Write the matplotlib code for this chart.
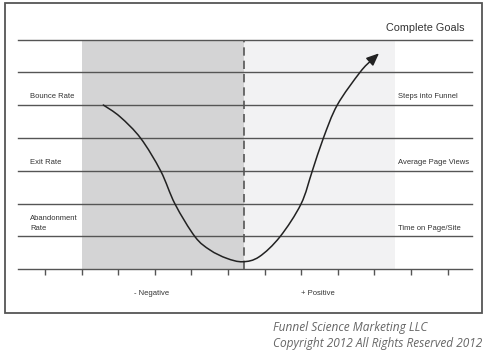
import matplotlib
matplotlib.use("Agg")
import matplotlib.pyplot as plt
import numpy as np
from matplotlib.patches import Rectangle, PathPatch
from matplotlib.path import Path

# ---- data ----
left_labels = ["Bounce Rate", "Exit Rate", "Abandonment\nRate"]
left_levels = [5, 3, 1]
right_labels = ["Steps into Funnel", "Average Page Views", "Time on Page/Site"]
right_levels = [5, 3, 1]
top_label = "Complete Goals"
n_lines = 8
tick_positions = list(range(12))
neg_span = (1.0, 5.45)
pos_span = (5.45, 9.56)
curve_x = [1.593, 2.049, 2.615, 3.161, 3.552, 4.098, 4.508, 4.964, 5.40,
           5.85, 6.421, 6.995, 7.303, 7.604, 7.986, 8.607]
curve_y = [5.005, 4.648, 3.990, 2.995, 1.989, 0.993, 0.588, 0.335, 0.230,
           0.380, 0.993, 1.989, 2.995, 3.990, 5.005, 6.001]
arrow_start = (8.926, 6.376)
arrow_tip = (9.126, 6.579)
footer = ["Funnel Science Marketing LLC", "Copyright 2012 All Rights Reserved 2012"]

W, H = 489, 355
fig = plt.figure(figsize=(W / 100, H / 100), dpi=100)
fig.patch.set_facecolor("white")

# outer border
fig.patches.append(Rectangle((5 / W, 1 - 313 / H), 477 / W, 310 / H,
                             transform=fig.transFigure, fill=False,
                             edgecolor="#555555", linewidth=1.3))

ax = fig.add_axes([18 / W, 1 - 269.3 / H, (472 - 18) / W, (269.3 - 39.5) / H])
ax.set_xlim(-0.738, 11.667)
ax.set_ylim(0, n_lines - 1)
ax.set_facecolor("none")
for s in ax.spines.values():
    s.set_visible(False)

ax.axvspan(*neg_span, color="#d4d4d5", zorder=0, lw=0)
ax.axvspan(*pos_span, color="#f2f2f3", zorder=0, lw=0)
for lv in range(n_lines):
    ax.axhline(lv, color="#555555", lw=1.0, zorder=2, clip_on=False)
ax.axvline(neg_span[1], color="#555555", lw=1.2, ls=(0, (5, 3)), zorder=3)

ax.set_xticks(tick_positions)
ax.set_yticks([])
ax.tick_params(axis="x", length=4.5, width=1.0, color="#555555",
               labelbottom=False, direction="out")

# smooth curve through the read points (cubic Bezier segments, Catmull-Rom tangents)
pts = np.column_stack([curve_x + [arrow_start[0], arrow_tip[0]],
                       curve_y + [arrow_start[1], arrow_tip[1]]])
disp = ax.transData.transform(pts)
verts = [disp[0]]
codes = [Path.MOVETO]
n = len(disp)
for i in range(n - 2):
    p0 = disp[i - 1] if i > 0 else disp[i]
    p1, p2 = disp[i], disp[i + 1]
    p3 = disp[i + 2]
    c1 = p1 + (p2 - p0) / 6.0
    c2 = p2 - (p3 - p1) / 6.0
    verts += [c1, c2, p2]
    codes += [Path.CURVE4] * 3
path = Path(ax.transData.inverted().transform(np.array(verts)), codes)
ax.add_patch(PathPatch(path, fill=False, edgecolor="#222222", lw=1.1, zorder=4,
                       capstyle="round", joinstyle="round"))
ax.annotate("", xy=arrow_tip, xytext=arrow_start,
            arrowprops=dict(arrowstyle="-|>,head_length=0.75,head_width=0.32",
                            color="#222222", lw=1.1, shrinkA=0, shrinkB=0),
            zorder=5)

fam = ["Liberation Sans", "DejaVu Sans"]
tc = "#333333"
fs = 5.5
for lab, lv in zip(left_labels, left_levels):
    ax.text(-0.41, lv + 0.15, lab, fontsize=fs, family=fam, color=tc,
            ha="left", va="bottom", linespacing=1.55)
for lab, lv in zip(right_labels, right_levels):
    ax.text(9.64, lv + 0.15, lab, fontsize=fs, family=fam, color=tc,
            ha="left", va="bottom")
ax.text(11.45, n_lines - 1 + 0.2, top_label, fontsize=7.8, family=fam,
        color=tc, ha="right", va="bottom")

ax.text(2.9, -0.73, "- Negative", fontsize=fs, family=fam, color=tc,
        ha="center", va="center")
ax.text(7.46, -0.73, "+ Positive", fontsize=fs, family=fam, color=tc,
        ha="center", va="center")

fig.text(273 / W, 1 - 328 / H, footer[0], fontsize=8.6, family=["Open Sans"],
         style="italic", color="#666666", ha="left", va="center")
fig.text(273 / W, 1 - 344 / H, footer[1], fontsize=8.6, family=["Open Sans"],
         style="italic", color="#666666", ha="left", va="center")

fig.savefig("out.png", dpi=100, facecolor="white")
